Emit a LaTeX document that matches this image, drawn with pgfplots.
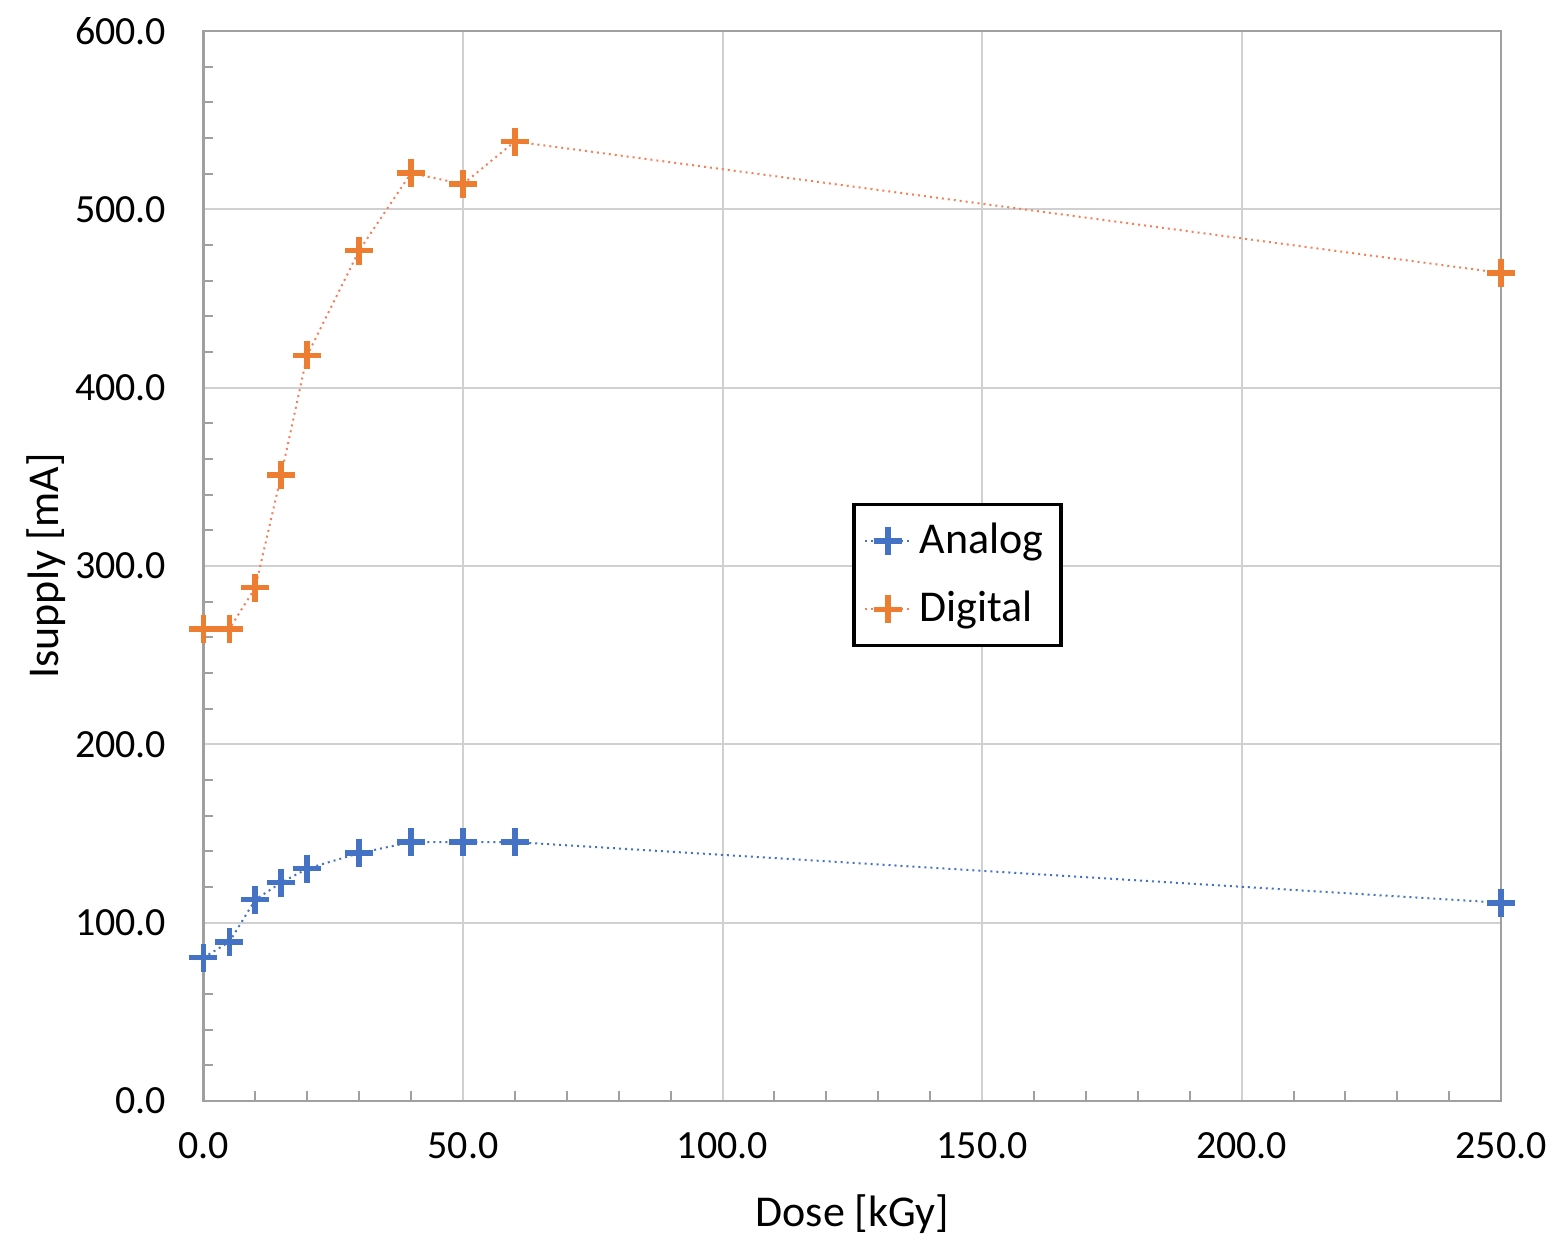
\documentclass[border=0pt]{standalone}
\usepackage{pgfplots}
\pgfplotsset{compat=1.18}
\usepackage{fontspec}
\setmainfont{Carlito}
\definecolor{analog}{HTML}{4472C4}
\definecolor{digital}{HTML}{ED7D31}
\definecolor{digline}{HTML}{F4805A}
\definecolor{gridgray}{HTML}{D0D0D0}
\definecolor{axgray}{HTML}{A0A0A0}
\begin{document}
\begin{tikzpicture}
\begin{axis}[
  scale only axis,
  width=324.5pt, height=267.5pt,
  xmin=0, xmax=250, ymin=0, ymax=600,
  xtick={0,50,...,250}, ytick={0,100,...,600},
  minor xtick={10,20,30,40,60,70,80,90,110,120,130,140,160,170,180,190,210,220,230,240},
  minor ytick={20,40,60,80,120,140,160,180,220,240,260,280,320,340,360,380,420,440,460,480,520,540,560,580},
  xtick pos=bottom, ytick pos=left,
  tick align=inside,
  major tick length=0pt,
  minor tick length=2.5pt,
  every minor tick/.style={axgray, line width=0.5pt},
  xmajorgrids, ymajorgrids,
  major grid style={gridgray, line width=0.5pt},
  axis line style={axgray, line width=0.6pt},
  /pgf/number format/assume math mode=true,
  /pgf/number format/.cd, fixed, fixed zerofill, precision=1, 1000 sep={},
  /pgfplots/.cd,
  ticklabel style={font=\fontsize{10}{12}\selectfont},
  yticklabel style={xshift=-5.75pt},
  xticklabel style={yshift=-4.5pt, inner xsep=1.3pt},
  xlabel={Dose [kGy]}, ylabel={Isupply [mA]},
  label style={font=\fontsize{11}{13}\selectfont},
  xlabel style={yshift=-2pt},
  ylabel style={yshift=-4.5pt},
  legend cell align=left,
  legend image code/.code={%
    \draw[mark repeat=2, mark phase=2] plot coordinates {(0cm,0cm) (0.2cm,0cm) (0.4cm,0cm)};},
  legend style={at={(0.5,0.559)}, anchor=north west, draw=black, line width=0.9pt,
    font=\fontsize{11}{14}\selectfont, inner sep=2.5pt, row sep=4pt},
  clip=false,
]
\addplot[analog, densely dotted, line width=0.5pt,
  mark=+, mark size=3.5pt, mark options={solid, line width=1.4pt}]
  coordinates {(0,80.3) (5,89.1) (10,112.8) (15,122.4) (20,130.2) (30,138.9) (40,145.1) (50,145.1) (60,145.1) (250,111.1)};
\addlegendentry{Analog}
\addplot[digline, densely dotted, line width=0.5pt,
  mark=+, mark size=3.5pt, mark options={solid, digital, line width=1.4pt}]
  coordinates {(0,264.7) (5,264.7) (10,287.8) (15,351.1) (20,418.1) (30,476.8) (40,520.3) (50,514.1) (60,538.0) (250,464.3)};
\addlegendentry{Digital}
\end{axis}
% a little white margin on the left and at the top
\path ([xshift=-3.35pt]current bounding box.west);
\path ([yshift=1pt]current bounding box.north);
\end{tikzpicture}
\end{document}
